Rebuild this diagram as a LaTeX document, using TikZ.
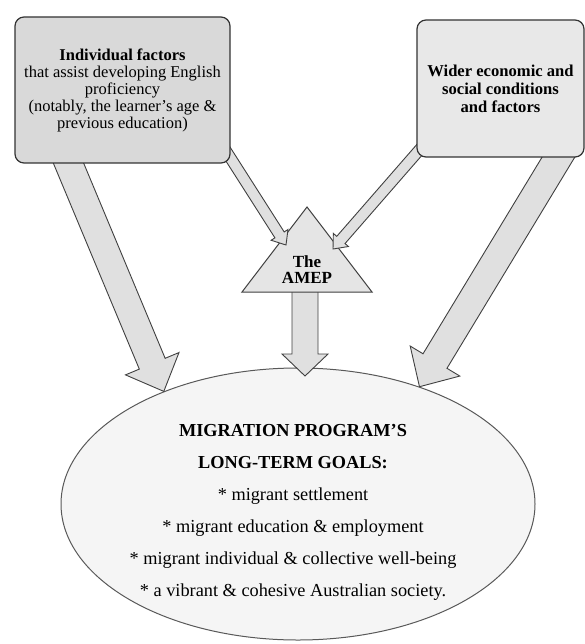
\documentclass[tikz,border=0pt]{standalone}
\usepackage{fontspec}
\setmainfont{Liberation Serif}
\usepackage{tikz}
\usetikzlibrary{calc, shapes.geometric}
\usepackage{xcolor}

\newcommand{\blockarrow}[5]{%
  \coordinate (ba-h) at ($(#2)!#5!(#1)$);
  \draw[fatarrow] ($(#1)!#3!90:(#2)$) -- ($(ba-h)!#3!90:(#2)$) -- ($(ba-h)!#4!90:(#2)$) -- (#2)
    -- ($(ba-h)!#4!-90:(#2)$) -- ($(ba-h)!#3!-90:(#2)$) -- ($(#1)!#3!-90:(#2)$) -- cycle;
}

\begin{document}
\begin{tikzpicture}[x=1pt, y=-1pt,
    factorbox/.style={draw=black!80, line width=1.2pt, rounded corners=9pt, align=center, inner sep=0pt},
    fatarrow/.style={draw=black!75, line width=0.9pt, fill=black!12, line join=miter}]
    \useasboundingbox (0,0) rectangle (585,644);

    \node (goals) at (298,504) [ellipse, draw=black!65, line width=1pt, fill=black!4, minimum width=474pt, minimum height=272pt] {};
    \node (goals-text) at (293,512) [align=center, font=\fontsize{18.3}{32}\selectfont] {\textbf{MIGRATION PROGRAM'S}\\\textbf{LONG-TERM GOALS:}\\* migrant settlement\\* migrant education \& employment\\* migrant individual \& collective well-being\\* a vibrant \& cohesive Australian society.};

    \coordinate (indiv-a) at (63,150);
    \coordinate (indiv-b) at (219,140);
    \coordinate (wider-a) at (428,140);
    \coordinate (wider-b) at (567,143);
    \coordinate (amep-top) at (307,207);
    \coordinate (amep-left) at (242,292);
    \coordinate (amep-right) at (372,292);
    \coordinate (amep-base) at (305,282);
    \coordinate (amep-in-l) at (286,245);
    \coordinate (amep-in-r) at (333,249);
    \coordinate (goals-top) at (305,376);

    \blockarrow{amep-base}{goals-top}{13pt}{23pt}{22pt}
    \draw[fill=black!10, draw=black!75, line width=1pt] (amep-top) -- (amep-right) -- (amep-left) -- cycle;
    \node (amep) at (307,270) [align=center, font=\bfseries\fontsize{17}{16}\selectfont] {The\\AMEP};

    \blockarrow{indiv-b}{amep-in-l}{5.5pt}{10pt}{12pt}
    \blockarrow{wider-a}{amep-in-r}{5.5pt}{10pt}{12pt}
    \blockarrow{indiv-a}{goals.140}{14pt}{29pt}{30pt}
    \blockarrow{wider-b}{goals.44}{14pt}{29pt}{30pt}

    \node (indiv) at (122.5,90) [factorbox, fill=black!15, minimum width=215pt, minimum height=146pt, font=\fontsize{16.5}{17}\selectfont] {\textbf{Individual factors}\\that assist developing English\\proficiency\\(notably, the learner's age \&\\previous education)};
    \node (wider) at (500.5,88.5) [factorbox, fill=black!9, minimum width=167pt, minimum height=137pt, font=\bfseries\fontsize{16.6}{18}\selectfont] {Wider economic and\\social conditions\\and factors};
\end{tikzpicture}
\end{document}
